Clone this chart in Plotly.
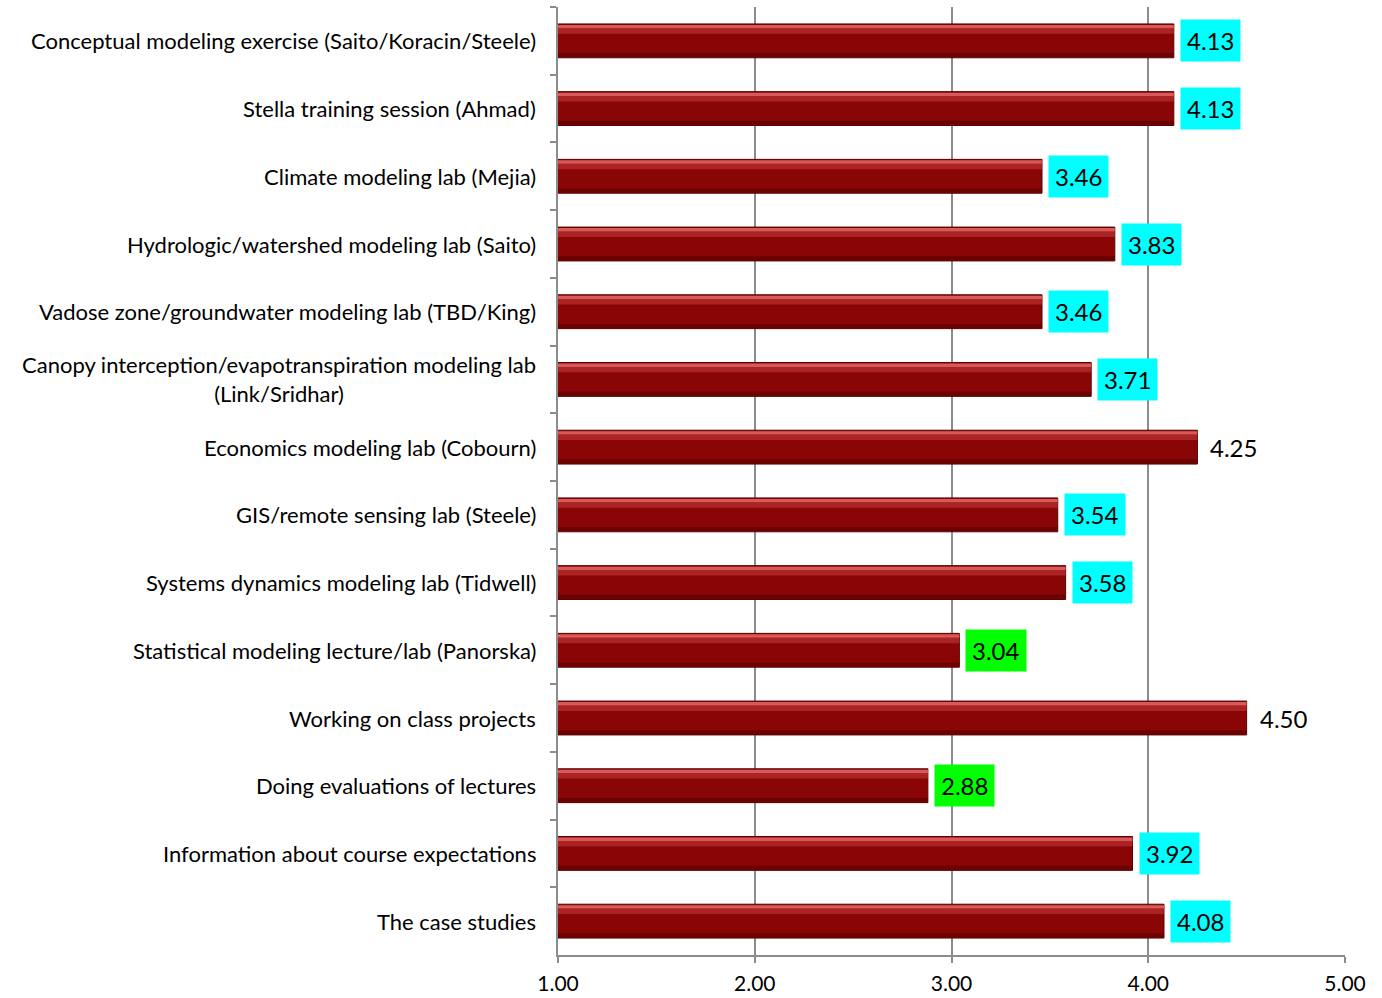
import plotly.graph_objects as go

categories = [
    "Conceptual modeling exercise (Saito/Koracin/Steele)",
    "Stella training session (Ahmad)",
    "Climate modeling lab (Mejia)",
    "Hydrologic/watershed modeling lab (Saito)",
    "Vadose zone/groundwater modeling lab (TBD/King)",
    "Canopy interception/evapotranspiration modeling lab<br>(Link/Sridhar)",
    "Economics modeling lab (Cobourn)",
    "GIS/remote sensing lab (Steele)",
    "Systems dynamics modeling lab (Tidwell)",
    "Statistical modeling lecture/lab (Panorska)",
    "Working on class projects",
    "Doing evaluations of lectures",
    "Information about course expectations",
    "The case studies",
]
values = [4.13, 4.13, 3.46, 3.83, 3.46, 3.71, 4.25, 3.54, 3.58, 3.04, 4.50, 2.88, 3.92, 4.08]
x_ticks = [1, 2, 3, 4, 5]
x_tick_labels = ["1.00", "2.00", "3.00", "4.00", "5.00"]

FONT = "Lato"

def label_bg(v):
    if v >= 4.2:
        return "rgba(0,0,0,0)"
    if v < 3.1:
        return "#00FF00"
    return "#00FFFF"

fig = go.Figure()
fig.add_trace(go.Bar(
    y=categories, x=values, orientation="h", width=0.5,
    marker=dict(color="#8A0606", line=dict(color="#5E0000", width=1)),
    hoverinfo="skip",
))
fig.add_trace(go.Bar(
    y=categories, x=values, orientation="h", width=0.05, offset=-0.235,
    marker=dict(color="rgba(235,110,110,0.8)", line=dict(width=0)),
    hoverinfo="skip",
))
fig.add_trace(go.Bar(
    y=categories, x=values, orientation="h", width=0.08, offset=-0.185,
    marker=dict(color="rgba(200,60,60,0.55)", line=dict(width=0)),
    hoverinfo="skip",
))
fig.add_trace(go.Bar(
    y=categories, x=values, orientation="h", width=0.06, offset=0.18,
    marker=dict(color="rgba(80,0,0,0.55)", line=dict(width=0)),
    hoverinfo="skip",
))

for c, v in zip(categories, values):
    fig.add_annotation(
        x=v, y=c, xref="x", yref="y", text=f"{v:.2f}", showarrow=False,
        xanchor="left", xshift=6, bgcolor=label_bg(v), borderpad=6,
        font=dict(family=FONT, size=24, color="#000"),
    )
    fig.add_annotation(
        x=0, y=c, xref="paper", yref="y", text=c, showarrow=False,
        xanchor="right", xshift=-20, align="center",
        font=dict(family=FONT, size=22, color="#000"),
    )

fig.update_layout(
    width=1382, height=998,
    margin=dict(l=558, r=37, t=7, b=43),
    paper_bgcolor="white", plot_bgcolor="white",
    barmode="overlay", showlegend=False,
    font=dict(family=FONT, color="#000"),
)
fig.update_xaxes(
    range=[1, 5], tickvals=x_ticks, ticktext=x_tick_labels,
    showgrid=True, gridcolor="#8C8C8C", gridwidth=1.5,
    showline=True, linecolor="#8C8C8C", linewidth=1.5,
    ticks="outside", ticklen=6, tickcolor="#8C8C8C", tickwidth=1.5,
    ticklabelstandoff=3, automargin=False,
    tickfont=dict(family=FONT, size=21, color="#000"),
    zeroline=False, fixedrange=True,
)
fig.update_yaxes(
    autorange="reversed", showticklabels=False, automargin=False,
    showline=True, linecolor="#8C8C8C", linewidth=1.5,
    ticks="outside", ticklen=6, tickcolor="#8C8C8C", tickwidth=1.5,
    tickson="boundaries", showgrid=False, fixedrange=True,
)

fig.write_html("out.html")
